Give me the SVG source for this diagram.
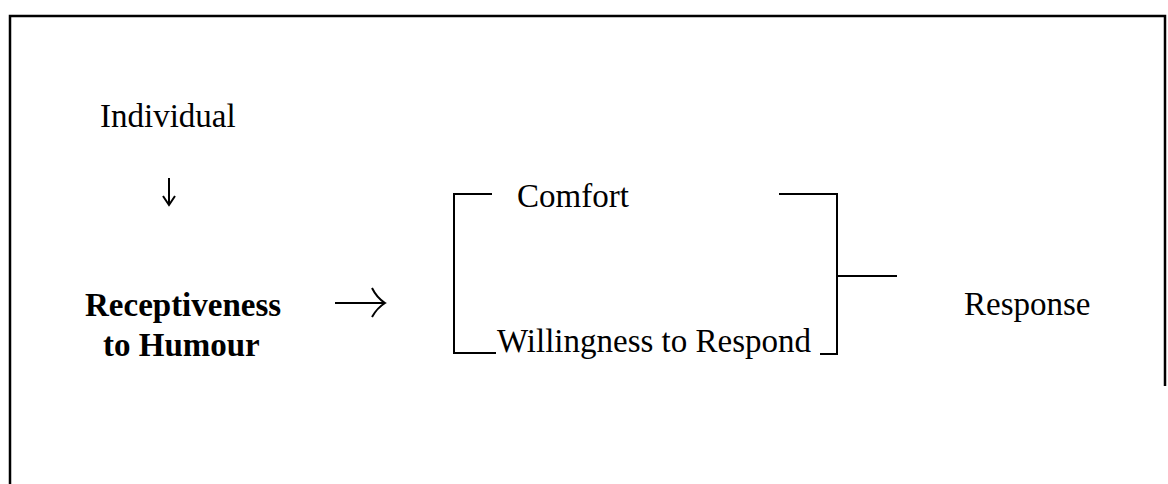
<svg xmlns="http://www.w3.org/2000/svg" width="1168" height="484" viewBox="0 0 1168 484">
<style>
.t{font-family:"Liberation Serif","Times New Roman",serif;font-size:33px;fill:#000}
.b{font-weight:bold}
.ln{stroke:#000;stroke-width:2;fill:none}
.fr{stroke:#000;stroke-width:2.5;fill:none}
</style>
<rect width="1168" height="484" fill="#fff"/>
<g id="frame">
<path class="fr" d="M10,484 V16 H1165 V386"/>
</g>
<g id="individual"><text class="t" x="100" y="127">Individual</text></g>
<g id="receptiveness">
<text class="t b" x="85" y="316">Receptiveness</text>
<text class="t b" x="103" y="356">to Humour</text>
</g>
<g id="comfort"><text class="t" x="517" y="207">Comfort</text></g>
<g id="willingness"><text class="t" x="497" y="352">Willingness to Respond</text></g>
<g id="response"><text class="t" x="964" y="315">Response</text></g>
<g id="connectors">
<path class="ln" stroke-width="1.8" d="M169,178 V205 M163,196 L169,205 L175,196"/>
<path class="ln" stroke-width="2.5" d="M335,303 H384"/>
<path class="ln" stroke-width="3" d="M372,288 Q377,298 385,303 Q377,308 372,317"/>
<path class="ln" d="M492,194 H454 V353 H496"/>
<path class="ln" d="M779,194 H837 V354 H820"/>
<path class="ln" d="M837,276 H897"/>
</g>
</svg>
